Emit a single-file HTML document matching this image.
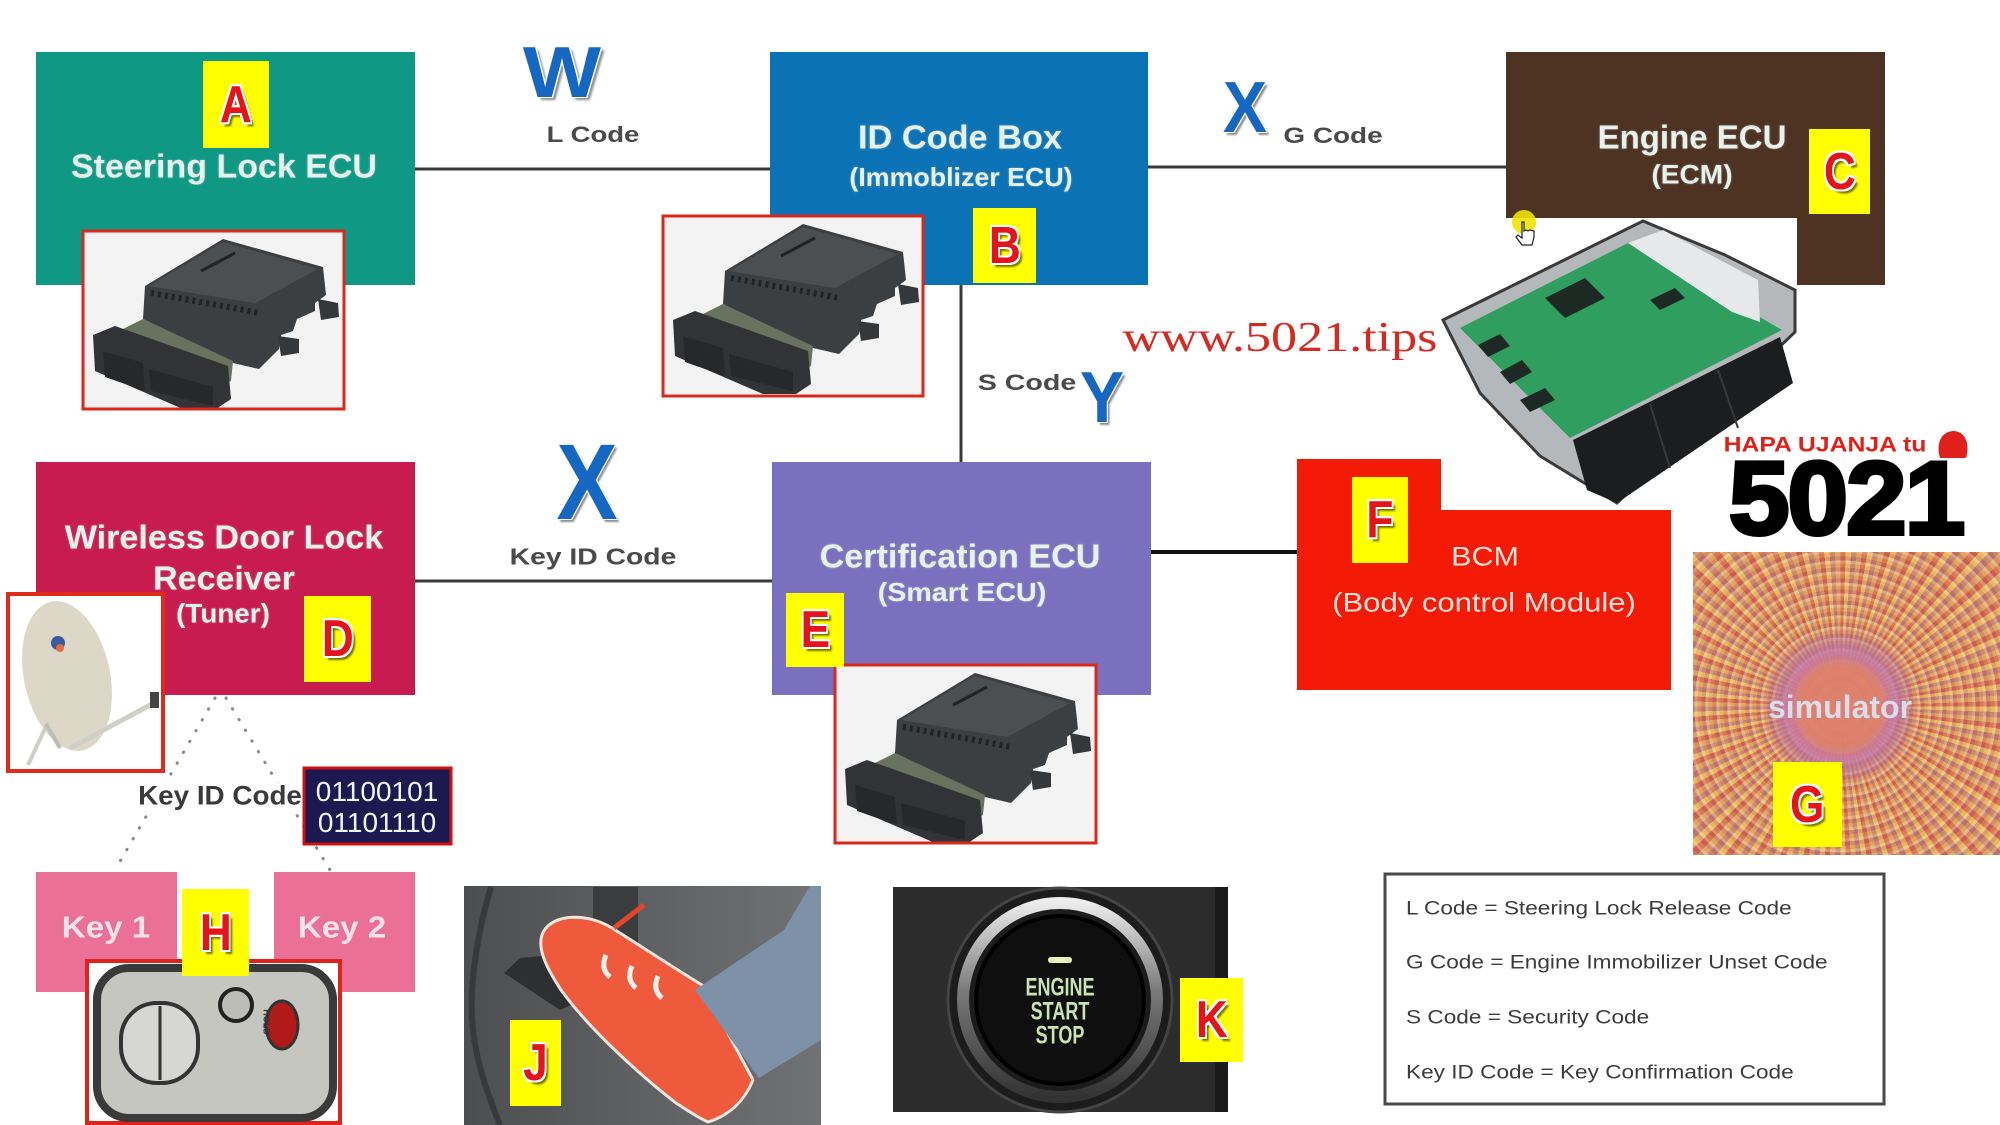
<!DOCTYPE html>
<html><head><meta charset="utf-8">
<style>
html,body{margin:0;padding:0;background:#fff;}
#c{position:relative;width:2000px;height:1125px;overflow:hidden;background:#fff;font-family:"Liberation Sans",Arial,sans-serif;}
.t{position:absolute;white-space:nowrap;line-height:1;font-weight:bold;}
.bt{color:#e6f2ee;text-shadow:0 0 2px rgba(255,255,255,.35);}
.lab{position:absolute;background:#ffff00;display:flex;align-items:center;justify-content:center;}
.lab span{font:bold 52px "Liberation Sans",Arial,sans-serif;color:#e3141b;display:inline-block;transform:scaleX(.85);line-height:1;
text-shadow:2px 0 #fff,-2px 0 #fff,0 2px #fff,0 -2px #fff,2px 2px #fff,-2px -2px #fff,2px -2px #fff,-2px 2px #fff,4px 4px 2px rgba(0,0,0,.55);}
.big{color:#1667c2;text-shadow:1px 1px 0 #fff,-1px -1px 0 #fff,1px -1px 0 #fff,-1px 1px 0 #fff,3px 3px 2px rgba(0,0,0,.45);}
.gl{color:#4a4a4a;}
.lg{position:absolute;left:1406px;white-space:nowrap;line-height:1;font-size:19px;color:#3c3c3c;transform-origin:0 50%;transform:translateY(-50%) scaleX(1.19);}
#sim{position:absolute;left:1693px;top:552px;width:307px;height:303px;
background:
radial-gradient(circle at 48% 51%, rgba(222,128,108,.95) 0 40px, rgba(196,120,170,.85) 54px, rgba(180,110,160,.55) 64px, rgba(0,0,0,0) 80px),
repeating-radial-gradient(circle at 48% 51%, rgba(255,240,190,.3) 0 3px, rgba(170,60,90,.22) 3px 7px, rgba(235,170,80,.25) 7px 11px),
repeating-conic-gradient(from 0deg at 48% 51%, rgba(205,50,60,.5) 0 2deg, rgba(250,220,110,.5) 2deg 4deg, rgba(150,70,140,.35) 4deg 6deg, rgba(230,175,110,.45) 6deg 8deg),
#d89c66;}
</style></head>
<body><div id="c">

<div id="sim"></div>

<svg width="2000" height="1125" style="position:absolute;left:0;top:0" xmlns="http://www.w3.org/2000/svg">
<defs>
<g id="conn">
 <rect x="0" y="0" width="261" height="178" fill="#f3f3f3"/>
 <polygon points="62,55 140,8 240,36 243,64 232,72 232,80 214,88 210,100 198,104 196,118 176,138 150,132 60,88" fill="#3c3f42"/>
 <polygon points="66,55 140,11 235,38 172,72" fill="#4c4f52"/>
 <line x1="118" y1="40" x2="152" y2="22" stroke="#222" stroke-width="3"/>
 <polyline points="68,62 90,66 112,70 134,74 156,78 176,82" fill="none" stroke="#222" stroke-width="6" stroke-dasharray="3 4"/>
 <polygon points="40,98 60,88 150,130 148,150 135,156" fill="#68725f"/>
 <polygon points="10,104 32,95 145,135 148,168 133,178 100,178 12,140" fill="#313336"/>
 <polygon points="20,120 60,132 62,160 22,146" fill="#262829"/>
 <polygon points="66,138 130,156 130,175 68,160" fill="#262829"/>
 <polygon points="235,68 255,72 256,86 238,89" fill="#35383a"/>
 <polygon points="195,105 216,108 216,122 198,125" fill="#35383a"/>
</g>
</defs>

<!-- Boxes -->
<rect x="36" y="52" width="379" height="233" fill="#0f9883"/>
<rect x="770" y="52" width="378" height="233" fill="#0c72b6"/>
<polygon points="1506,52 1885,52 1885,285 1797,285 1797,218 1506,218" fill="#4e3222"/>
<rect x="36" y="462" width="379" height="233" fill="#c81b50"/>
<rect x="772" y="462" width="379" height="233" fill="#7a70bd"/>
<polygon points="1297,459 1441,459 1441,510 1671,510 1671,690 1297,690" fill="#f31a06"/>
<rect x="36" y="872" width="141" height="120" fill="#ea7097"/>
<rect x="274" y="872" width="141" height="120" fill="#ea7097"/>

<!-- Connector lines -->
<g stroke="#3a3a3a" stroke-width="3">
 <line x1="415" y1="169" x2="770" y2="169"/>
 <line x1="1148" y1="167" x2="1506" y2="167"/>
 <line x1="961" y1="285" x2="961" y2="462"/>
 <line x1="415" y1="581" x2="772" y2="581"/>
 <line x1="1151" y1="552" x2="1297" y2="552" stroke="#111" stroke-width="4"/>
</g>
<g stroke="#8a8a8a" stroke-width="3" stroke-linecap="round" stroke-dasharray="0.5 12" fill="none">
 <line x1="215" y1="698" x2="115" y2="870"/>
 <line x1="226" y1="698" x2="330" y2="870"/>
</g>

<!-- connector photos -->
<g transform="translate(83,231)"><use href="#conn"/><rect x="0" y="0" width="261" height="178" fill="none" stroke="#d9281c" stroke-width="3"/></g>
<g transform="translate(663,216)"><use href="#conn"/><rect x="0" y="0" width="260" height="180" fill="none" stroke="#d9281c" stroke-width="3"/></g>
<g transform="translate(835,665)"><use href="#conn"/><rect x="0" y="0" width="261" height="178" fill="none" stroke="#d9281c" stroke-width="3"/></g>

<!-- Engine ECU board photo -->
<polygon points="1443,320 1643,221 1725,255 1795,290 1795,332 1617,503 1540,456 1480,393" fill="#b4b8bb" stroke="#3a3a3a" stroke-width="3"/>
<polygon points="1460,328 1630,242 1782,330 1570,438" fill="#2f9e5f"/>
<polygon points="1628,243 1663,230 1758,280 1760,322 1732,312" fill="#e6e8ea"/>
<polygon points="1545,298 1585,278 1605,298 1565,318" fill="#1d2a24"/>
<polygon points="1478,345 1500,334 1510,346 1488,357" fill="#1d2a24"/>
<polygon points="1500,372 1522,360 1532,372 1510,384" fill="#1d2a24"/>
<polygon points="1520,400 1545,388 1555,400 1530,412" fill="#1d2a24"/>
<polygon points="1650,300 1675,288 1685,298 1660,310" fill="#1d2a24"/>
<polygon points="1573,440 1780,337 1793,383 1617,503 1587,490" fill="#1c1d1e"/>
<line x1="1650" y1="404" x2="1670" y2="468" stroke="#383838" stroke-width="2"/>
<line x1="1718" y1="370" x2="1738" y2="428" stroke="#383838" stroke-width="2"/>
<!-- cursor -->
<circle cx="1524" cy="222" r="12" fill="#f3e200" opacity=".9"/>
<path d="M1522,222 l0,16 -4,-3 -2,2 6,8 10,0 2,-8 0,-6 -4,-1 -2,1 -2,-1 -2,1 0,-9 z" fill="#fff" stroke="#222" stroke-width="1.2"/>

<!-- dish photo -->
<rect x="8" y="594" width="155" height="177" fill="#fff" stroke="#e02a1a" stroke-width="4"/>
<ellipse cx="67" cy="676" rx="43" ry="76" transform="rotate(-12 67 676)" fill="#dcd7c6"/>
<circle cx="58" cy="643" r="7" fill="#3c5aa0"/><circle cx="60" cy="648" r="4" fill="#e07040"/>
<line x1="70" y1="748" x2="156" y2="702" stroke="#cfcfc8" stroke-width="5"/>
<rect x="150" y="692" width="9" height="16" fill="#444"/>
<line x1="28" y1="765" x2="48" y2="722" stroke="#cfcfc8" stroke-width="4"/>
<line x1="60" y1="748" x2="46" y2="724" stroke="#bdbdb5" stroke-width="4"/>

<!-- binary box -->
<rect x="304" y="768" width="147" height="76" fill="#1c1850" stroke="#d01010" stroke-width="3"/>

<!-- Key fob photo -->
<rect x="87" y="961" width="253" height="162" fill="#fff" stroke="#e0231a" stroke-width="4"/>
<rect x="97" y="968" width="236" height="150" rx="32" fill="#c6c6c1" stroke="#3a3a3a" stroke-width="8"/>
<rect x="121" y="1003" width="77" height="80" rx="36" fill="#d6d6d2" stroke="#333" stroke-width="4"/>
<line x1="160" y1="1006" x2="160" y2="1080" stroke="#333" stroke-width="3"/>
<circle cx="236" cy="1005" r="16" fill="#bdbdb8" stroke="#222" stroke-width="4"/>
<ellipse cx="282" cy="1025" rx="16" ry="24" fill="#b21a1a" stroke="#333" stroke-width="3"/>

<!-- pedal photo -->
<defs><linearGradient id="pg" x1="0" y1="0" x2="1" y2="0"><stop offset="0" stop-color="#4c4e50"/><stop offset="1" stop-color="#707274"/></linearGradient></defs>
<rect x="464" y="886" width="357" height="239" fill="url(#pg)"/>
<path d="M491,887 C478,930 470,980 472,1017 C474,1060 490,1100 500,1125" stroke="#38393a" stroke-width="6" fill="none"/>
<rect x="593" y="887" width="45" height="63" fill="#3b3c3d"/>
<polygon points="504,973 520,958 638,947 645,972 560,1010" fill="#2e2f30"/>
<path d="M542,935 C548,916 582,910 612,928 C650,952 690,978 702,985 L753,1080 C745,1100 730,1115 708,1122 C695,1116 684,1108 676,1103 C640,1075 590,1030 561,990 C548,970 537,950 542,935 Z" fill="#ee5a3b" stroke="#f6e6e0" stroke-width="3" stroke-linejoin="round"/>
<path d="M606,955 q-6,14 4,22 M632,966 q-6,14 4,22 M658,976 q-6,14 4,22" stroke="#f4efe8" stroke-width="5" fill="none"/>
<polygon points="695,990 784,930 810,886 821,886 821,1040 759,1078" fill="#7d91a8"/>
<line x1="614" y1="928" x2="644" y2="905" stroke="#e5462c" stroke-width="5"/>

<!-- start button photo -->
<rect x="893" y="887" width="335" height="225" fill="#2c2c2c"/>
<rect x="1215" y="887" width="13" height="225" fill="#1a1a1a"/>
<circle cx="1060" cy="1000" r="112" fill="#1c1c1c" stroke="#444" stroke-width="3"/>
<defs><linearGradient id="rg" x1="0" y1="0" x2="0" y2="1"><stop offset="0" stop-color="#ececec"/><stop offset=".45" stop-color="#7a7a7a"/><stop offset="1" stop-color="#333"/></linearGradient></defs>
<circle cx="1060" cy="1000" r="97" fill="none" stroke="url(#rg)" stroke-width="12"/>
<circle cx="1060" cy="1000" r="84" fill="#0e0f0e" stroke="#000" stroke-width="4"/>
<rect x="1048" y="957" width="24" height="6" rx="3" fill="#eaf3b8"/>

<!-- legend box -->
<rect x="1385" y="874" width="499" height="230" fill="#fff" stroke="#4a4a4a" stroke-width="3"/>

<!-- logo blob -->
<path d="M1940,458 C1936,445 1940,432 1953,431 C1966,431 1970,445 1966,458 Z" fill="#e0201a"/>
</svg>

<!-- Box texts -->
<div class="t bt" style="left:224px;top:166px;font-size:33px;transform:translate(-50%,-50%) scaleX(1.03)">Steering Lock ECU</div>
<div class="t bt" style="left:960px;top:137px;font-size:33px;transform:translate(-50%,-50%) scaleX(1.04)">ID Code Box</div>
<div class="t bt" style="left:961px;top:177px;font-size:26px;transform:translate(-50%,-50%) scaleX(1.03)">(Immoblizer ECU)</div>
<div class="t bt" style="left:1692px;top:137px;font-size:33px;transform:translate(-50%,-50%)">Engine ECU</div>
<div class="t bt" style="left:1692px;top:175px;font-size:27px;transform:translate(-50%,-50%) scaleX(1.04)">(ECM)</div>
<div class="t bt" style="left:224px;top:537px;font-size:33px;transform:translate(-50%,-50%) scaleX(1.035)">Wireless Door Lock</div>
<div class="t bt" style="left:224px;top:578px;font-size:33px;transform:translate(-50%,-50%) scaleX(1.03)">Receiver</div>
<div class="t bt" style="left:223px;top:614px;font-size:27px;transform:translate(-50%,-50%) scaleX(1.03)">(Tuner)</div>
<div class="t bt" style="left:960px;top:556px;font-size:33px;transform:translate(-50%,-50%) scaleX(1.035)">Certification ECU</div>
<div class="t bt" style="left:962px;top:592px;font-size:26px;transform:translate(-50%,-50%) scaleX(1.1)">(Smart ECU)</div>
<div class="t" style="left:1485px;top:557px;font-size:27px;font-weight:normal;color:#fde2da;transform:translate(-50%,-50%) scaleX(1.13)">BCM</div>
<div class="t" style="left:1484px;top:603px;font-size:27px;font-weight:normal;color:#fde2da;transform:translate(-50%,-50%) scaleX(1.15)">(Body control Module)</div>

<!-- Connector labels -->
<div class="t gl" style="left:593px;top:135px;font-size:22px;transform:translate(-50%,-50%) scaleX(1.25)">L Code</div>
<div class="t gl" style="left:1333px;top:136px;font-size:22px;transform:translate(-50%,-50%) scaleX(1.27)">G Code</div>
<div class="t gl" style="left:1027px;top:383px;font-size:22px;transform:translate(-50%,-50%) scaleX(1.3)">S Code</div>
<div class="t gl" style="left:593px;top:557px;font-size:23px;transform:translate(-50%,-50%) scaleX(1.23)">Key ID Code</div>
<div class="t" style="left:220px;top:796px;font-size:27px;color:#3a3a3a;background:#fff;transform:translate(-50%,-50%) scaleX(1.03)">Key ID Code</div>

<div class="t big" style="left:562px;top:73px;font-size:72px;transform:translate(-50%,-50%) scaleX(1.15)">W</div>
<div class="t big" style="left:1245px;top:108px;font-size:72px;transform:translate(-50%,-50%) scaleX(.92)">X</div>
<div class="t big" style="left:587px;top:482px;font-size:108px;transform:translate(-50%,-50%) scaleX(.85)">X</div>
<div class="t big" style="left:1102px;top:398px;font-size:72px;transform:translate(-50%,-50%) scaleX(.92)">Y</div>

<!-- binary -->
<div class="t" style="left:377px;top:792px;font-size:28px;font-weight:normal;color:#f4f4ff;transform:translate(-50%,-50%)">01100101</div>
<div class="t" style="left:377px;top:823px;font-size:28px;font-weight:normal;color:#f4f4ff;transform:translate(-50%,-50%)">01101110</div>

<!-- keys -->
<div class="t" style="left:106px;top:927px;font-size:31px;color:#fbe2ea;transform:translate(-50%,-50%) scaleX(1.07)">Key 1</div>
<div class="t" style="left:342px;top:927px;font-size:31px;color:#fbe2ea;transform:translate(-50%,-50%) scaleX(1.07)">Key 2</div>
<div class="t" style="left:266px;top:1022px;font-size:9px;color:#333;transform:translate(-50%,-50%) rotate(90deg)">HOLD</div>

<!-- website & logo -->
<div class="t" style="left:1280px;top:338px;font-size:42px;font-weight:normal;font-family:'Liberation Serif',serif;color:#d42a20;transform:translate(-50%,-50%) scaleX(1.24)">www.5021.tips</div>
<div class="t" style="left:1825px;top:445px;font-size:21px;color:#e0201a;transform:translate(-50%,-50%) scaleX(1.18)">HAPA UJANJA tu</div>
<div class="t" style="left:1846px;top:499px;font-size:104px;color:#000;-webkit-text-stroke:4px #000;letter-spacing:-2px;transform:translate(-50%,-50%) scaleX(1.05)">5021</div>
<div class="t" style="left:1840px;top:707px;font-size:32px;color:#dcdcea;transform:translate(-50%,-50%)">simulator</div>

<!-- start button text -->
<div class="t" style="left:1060px;top:988px;font-size:25px;color:#c9e4b0;transform:translate(-50%,-50%) scaleX(.72)">ENGINE</div>
<div class="t" style="left:1060px;top:1012px;font-size:25px;color:#c9e4b0;transform:translate(-50%,-50%) scaleX(.72)">START</div>
<div class="t" style="left:1060px;top:1036px;font-size:25px;color:#c9e4b0;transform:translate(-50%,-50%) scaleX(.72)">STOP</div>

<!-- legend -->
<div class="lg" style="top:909px">L Code = Steering Lock Release Code</div>
<div class="lg" style="top:963px">G Code = Engine Immobilizer Unset Code</div>
<div class="lg" style="top:1018px">S Code = Security Code</div>
<div class="lg" style="top:1073px">Key ID Code = Key Confirmation Code</div>

<!-- yellow labels -->
<div class="lab" style="left:203px;top:61px;width:66px;height:87px"><span>A</span></div>
<div class="lab" style="left:973px;top:208px;width:63px;height:75px"><span>B</span></div>
<div class="lab" style="left:1809px;top:129px;width:61px;height:85px"><span>C</span></div>
<div class="lab" style="left:304px;top:596px;width:67px;height:86px"><span>D</span></div>
<div class="lab" style="left:786px;top:593px;width:58px;height:74px"><span>E</span></div>
<div class="lab" style="left:1352px;top:477px;width:56px;height:86px"><span>F</span></div>
<div class="lab" style="left:1773px;top:762px;width:69px;height:85px"><span>G</span></div>
<div class="lab" style="left:182px;top:889px;width:67px;height:87px"><span>H</span></div>
<div class="lab" style="left:510px;top:1020px;width:51px;height:86px"><span>J</span></div>
<div class="lab" style="left:1180px;top:978px;width:63px;height:84px"><span>K</span></div>

</div></body></html>
